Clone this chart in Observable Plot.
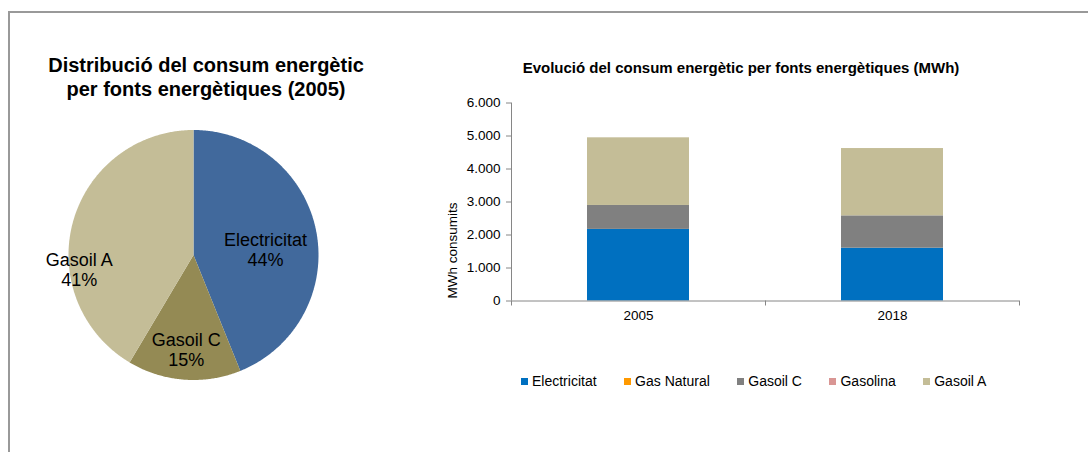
<!DOCTYPE html>
<html>
<head>
<meta charset="utf-8">
<script src="https://cdn.jsdelivr.net/npm/d3@7"></script>
<script src="https://cdn.jsdelivr.net/npm/@observablehq/plot@0.6"></script>
<style>
  html, body { margin: 0; padding: 0; background: #fff; }
  #wrap { position: relative; width: 1088px; height: 452px; overflow: hidden; background: #fff;
          font-family: "Liberation Sans", Arial, sans-serif; color: #000; }
  .bt { position: absolute; left: 8px; top: 11px; width: 1080px; height: 2px; background: #999; z-index: 5; }
  .bl { position: absolute; left: 8px; top: 11px; width: 2px; height: 441px; background: #999; z-index: 5; }
  #pieTitle { position: absolute; left: 6px; top: 53px; width: 400px; text-align: center;
              font-weight: bold; font-size: 20px; line-height: 24px; }
  #barTitle { position: absolute; left: 491px; top: 60px; width: 500px; text-align: center;
              font-weight: bold; font-size: 15px; line-height: 16px; }
  #pie { position: absolute; left: 0; top: 0; }
  #bar { position: absolute; left: 400px; top: 0; }
  #legend { position: absolute; left: 521px; top: 373px; display: flex; align-items: center;
            font-size: 14px; line-height: 16px; white-space: nowrap; }
  .item { display: flex; align-items: center; margin-right: 27.5px; }
  .sw { width: 7px; height: 7px; margin-right: 4px; }
</style>
</head>
<body>
<div id="wrap">
  <div class="bt"></div><div class="bl"></div>
  <div id="pieTitle"></div>
  <div id="barTitle"></div>
  <div id="pie"></div>
  <div id="bar"></div>
  <div id="legend"></div>
</div>
<script>
// ---- data ----
const years = ["2005", "2018"];
const fuels = ["Electricitat", "Gas Natural", "Gasoil C", "Gasolina", "Gasoil A"];
const fuelColors = ["#0070C0", "#FF9900", "#808080", "#D99694", "#C4BD97"];
const values2005 = [2170, 0, 725, 0, 2050];
const values2018 = [1600, 0, 980, 0, 2040];
const yTicks = [0, 1000, 2000, 3000, 4000, 5000, 6000];
const pieFuels = ["Electricitat", "Gasoil C", "Gasoil A"];
const pieColors = ["#41699C", "#948A54", "#C4BD97"];
const pieTitleText = ["Distribució del consum energètic", "per fonts energètiques (2005)"];
const barTitleText = "Evolució del consum energètic per fonts energètiques (MWh)";
const yLabel = "MWh consumits";

// label placement tweaks (layout only)
const pieLabelLayout = {
  "Electricitat": {r: 0.578, turn: 6.6},
  "Gasoil C": {r: 0.762, turn: 0},
  "Gasoil A": {r: 0.921, turn: -22.7}
};

const FONT = '"Liberation Sans", Arial, sans-serif';
const axisGray = "#868686";

document.getElementById("pieTitle").innerHTML = pieTitleText.join("<br>");
document.getElementById("barTitle").textContent = barTitleText;

// ---- pie ----
const seriesByYear = {"2005": values2005, "2018": values2018};
const pieRows = pieFuels.map(f => ({fuel: f, value: values2005[fuels.indexOf(f)]}));
const pieTotal = d3.sum(pieRows, d => d.value);
const arcs = d3.pie().sort(null).value(d => d.value)(pieRows);
const piePts = arcs.flatMap(a => {
  const n = Math.max(2, Math.ceil((a.endAngle - a.startAngle) / (Math.PI / 360)));
  const pts = [{fuel: a.data.fuel, px: 0, py: 0}];
  for (let k = 0; k <= n; k++) {
    const t = a.startAngle + (a.endAngle - a.startAngle) * k / n;
    pts.push({fuel: a.data.fuel, px: Math.sin(t), py: Math.cos(t)});
  }
  pts.push({fuel: a.data.fuel, px: 0, py: 0});
  return pts;
});
const pieLabels = arcs.map(a => {
  const L = pieLabelLayout[a.data.fuel];
  const t = (a.startAngle + a.endAngle) / 2 + L.turn * Math.PI / 180;
  return {
    px: L.r * Math.sin(t), py: L.r * Math.cos(t),
    text: a.data.fuel + "\n" + Math.round(a.data.value / pieTotal * 100) + "%"
  };
});

const pie = Plot.plot({
  width: 400, height: 452,
  marginLeft: 68, marginRight: 82, marginTop: 129.5, marginBottom: 72.5,
  x: {domain: [-1, 1], axis: null},
  y: {domain: [-1, 1], axis: null},
  color: {domain: pieFuels, range: pieColors},
  style: {background: "transparent", fontFamily: FONT, color: "#000", overflow: "visible"},
  marks: [
    Plot.line(piePts, {x: "px", y: "py", z: "fuel", fill: "fuel", stroke: "none", curve: "linear"}),
    Plot.text(pieLabels, {x: "px", y: "py", text: "text", fontSize: 18, lineHeight: 1.11,
                          lineAnchor: "middle", textAnchor: "middle", fill: "#000"})
  ]
});
document.getElementById("pie").appendChild(pie);

// ---- stacked bars ----
const barRows = years.flatMap((yr, i) =>
  fuels.map((f, j) => ({i, year: yr, fuel: f, value: seriesByYear[yr][j]})));

const bar = Plot.plot({
  width: 688, height: 452,
  marginLeft: 111, marginRight: 69, marginTop: 102.5, marginBottom: 151.5,
  x: {type: "linear", domain: [0, years.length], label: null},
  y: {domain: [0, 6000], label: null},
  color: {domain: fuels, range: fuelColors},
  style: {background: "transparent", fontFamily: FONT, fontSize: "13.5px", color: "#000", overflow: "visible"},
  marks: [
    Plot.rectY(barRows, {x1: "i", x2: d => d.i + 1, y: "value", fill: "fuel",
                         insetLeft: 76, insetRight: 76}),
    Plot.ruleX([0], {stroke: axisGray}),
    Plot.ruleY([0], {stroke: axisGray}),
    Plot.axisY({ticks: yTicks, tickSize: 5, tickPadding: 6, stroke: axisGray, fill: "#000",
                tickFormat: d => d3.format(",")(d).replace(/,/g, "."), label: null}),
    Plot.axisX({ticks: d3.range(0, years.length + 1), tickSize: 5, stroke: axisGray,
                tickFormat: () => "", label: null}),
    Plot.axisX({ticks: years.map((_, i) => i + 0.5), tickSize: 0, tickPadding: 9, fill: "#000",
                tickFormat: d => years[Math.floor(d)], label: null}),
    Plot.text([yLabel], {frameAnchor: "bottom-left", rotate: -90, textAnchor: "start",
                         lineAnchor: "middle", dx: -59, dy: -2.5, fill: "#000", fontSize: 13.5})
  ]
});
document.getElementById("bar").appendChild(bar);

// ---- legend ----
const legend = document.getElementById("legend");
fuels.forEach((f, j) => {
  const item = document.createElement("div");
  item.className = "item";
  const sw = document.createElement("div");
  sw.className = "sw";
  sw.style.background = fuelColors[j];
  const lab = document.createElement("span");
  lab.textContent = f;
  item.appendChild(sw); item.appendChild(lab);
  legend.appendChild(item);
});
</script>
</body>
</html>
